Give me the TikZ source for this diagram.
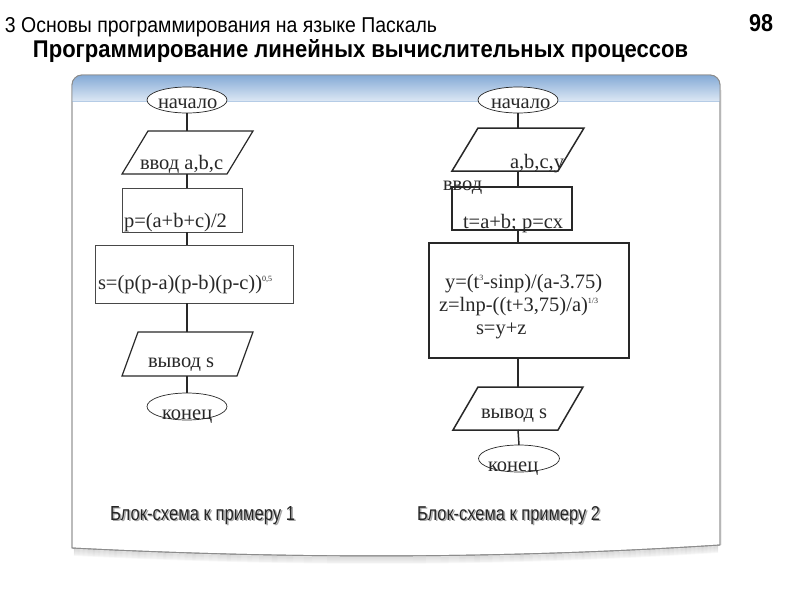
\documentclass[tikz,border=0pt]{standalone}
\usepackage{fontspec}
\setmainfont{Liberation Serif}
\newfontfamily\hsans{Liberation Sans}
\usetikzlibrary{shapes.geometric}
\definecolor{hdrtop}{RGB}{132,170,214}
\definecolor{hdrbot}{RGB}{220,231,244}
\definecolor{ink}{RGB}{40,40,40}
\definecolor{frame}{RGB}{140,140,140}
\newcommand{\fcfont}{\fontsize{20.5}{22}\selectfont}
\newcommand{\supx}[1]{\raisebox{8pt}{\fontsize{8}{8}\selectfont #1}}
\begin{document}
\begin{tikzpicture}[x=1pt,y=-1pt,
  every node/.style={inner sep=0pt, outer sep=0pt},
  fctext/.style={font=\fcfont, text=ink, anchor=base west},
  termshape/.style={ellipse, draw=ink, line width=0.7pt, minimum width=80pt, minimum height=26pt, fill=white},
  procthin/.style={rectangle, draw=ink!85, line width=0.9pt},
  procthick/.style={rectangle, draw=ink, line width=1.5pt},
  iohold/.style={rectangle, draw=none},
  ioline/.style={draw=ink, line width=1.2pt, line join=miter},
  conn/.style={draw=ink, line width=1.2pt},
  titletext/.style={anchor=base west, font=\hsans},
  lbltext/.style={anchor=base west, font=\hsans}]
\useasboundingbox (0,0) rectangle (800,600);
\fill[white] (0,0) rectangle (800,600);

% soft shadow under the panel
\foreach \d/\o in {7/0.03,6/0.04,5/0.05,4/0.06,3/0.07,2/0.08,1/0.09}{
  \draw[black, opacity=\o, line width=1.6pt]
    (74,548+\d) .. controls (288,559+\d) and (504,559+\d) .. (718,545+\d);
}
\fill[black, opacity=0.06] (73,90) rectangle (75,548);
\fill[black, opacity=0.06] (719,90) rectangle (722,545);

% panel
\path[fill=white, draw=frame, line width=0.9pt]
  (72,548) [rounded corners=10pt]-- (72,75) -- (720,75) [sharp corners]-- (720,545)
  .. controls (504,559) and (288,559) .. cycle;
\begin{scope}
  \clip (72,548) [rounded corners=10pt]-- (72,75) -- (720,75) [sharp corners]-- (720,545)
  .. controls (504,559) and (288,559) .. cycle;
  \shade[top color=hdrtop, bottom color=hdrbot] (72,75) rectangle (720,101);
  \draw[color=hdrtop!60, line width=0.6pt] (72,101) -- (720,101);
\end{scope}
\draw[draw=frame, line width=0.9pt]
  (72,548) [rounded corners=10pt]-- (72,75) -- (720,75) [sharp corners]-- (720,545)
  .. controls (504,559) and (288,559) .. cycle;

% titles
\node[titletext] (t1) at (5,32) {\resizebox{432pt}{15pt}{3 Основы программирования на языке Паскаль}};
\node[titletext] (t2) at (33,57) {\resizebox{655pt}{18pt}{\bfseries Программирование линейных вычислительных процессов}};
\node[titletext] (pg) at (749,31) {\resizebox{24pt}{17pt}{\bfseries 98}};

% ---------- left flowchart ----------
\node[termshape] (ls) at (187,100) {};
\node[fctext] (lst) at (158,108) {начало};
\node[iohold, minimum width=131pt, minimum height=43pt] (lin) at (187.5,152.5) {};
\path[ioline] (lin.south west) -- ([xshift=-26pt]lin.south east) -- (lin.north east) -- ([xshift=26pt]lin.north west) -- cycle;
\node[fctext] (lint) at (140,169) {ввод a,b,c};
\node[procthin, minimum width=120pt, minimum height=44pt] (lp) at (182,210) {};
\node[fctext] (lpt) at (124,227) {p=(a+b+c)/2};
\node[procthin, minimum width=198pt, minimum height=58pt] (ls2) at (194,274) {};
\node[fctext] (ls2t) at (98,289) {s=(p(p-a)(p-b)(p-c))\supx{0,5}};
\node[iohold, minimum width=131pt, minimum height=44pt] (lout) at (187.5,354) {};
\path[ioline] (lout.south west) -- ([xshift=-16pt]lout.south east) -- (lout.north east) -- ([xshift=16pt]lout.north west) -- cycle;
\node[fctext] (loutt) at (148,367) {вывод s};
\node[termshape, minimum height=27pt] (le) at (187,406.5) {};
\node[fctext] (let) at (162,419) {конец};

\draw[conn] (ls.south) -- (ls.south |- lin.north);
\draw[conn] (ls.south |- lin.south) -- (ls.south |- lp.north);
\draw[conn] (ls.south |- lp.south) -- (ls.south |- ls2.north);
\draw[conn] (ls.south |- ls2.south) -- (ls.south |- lout.north);
\draw[conn] (ls.south |- lout.south) -- (le.north);

% ---------- right flowchart ----------
\node[termshape] (rs) at (518,100) {};
\node[fctext] (rst) at (491,108) {начало};
\node[iohold, minimum width=132pt, minimum height=43pt] (rin) at (518,149.5) {};
\path[ioline, line width=1.5pt] (rin.south west) -- ([xshift=-26pt]rin.south east) -- (rin.north east) -- ([xshift=26pt]rin.north west) -- cycle;
\node[fctext] (rint) at (510,168) {a,b,c,y};
\node[procthick, minimum width=120pt, minimum height=43pt] (rp) at (512,208.5) {};
\node[fctext] (rvv) at (443,190) {ввод};
\node[fctext] (rpt) at (463,228) {t=a+b; p=cx};
\node[procthick, minimum width=200pt, minimum height=115pt] (rc) at (529,300.5) {};
\node[fctext] (rc1) at (445,288) {y=(t\supx{3}-sinp)/(a-3.75)};
\node[fctext] (rc2) at (439,311) {z=lnp-((t+3,75)/a)\supx{1/3}};
\node[fctext] (rc3) at (476,334) {s=y+z};
\node[iohold, minimum width=130pt, minimum height=43pt] (rout) at (518,408.5) {};
\path[ioline, line width=1.5pt] (rout.south west) -- ([xshift=-25pt]rout.south east) -- (rout.north east) -- ([xshift=25pt]rout.north west) -- cycle;
\node[fctext] (routt) at (481,418) {вывод s};
\node[termshape, minimum width=81pt, minimum height=27pt] (re) at (519,458.5) {};
\node[fctext] (ret) at (488,471) {конец};

\draw[conn, line width=1.5pt] (rs.south) -- (rs.south |- rin.north);
\draw[conn, line width=1.5pt] (rs.south |- rin.south) -- (rs.south |- rp.north);
\draw[conn, line width=1.5pt] (rs.south |- rp.south) -- (rs.south |- rc.north);
\draw[conn, line width=1.5pt] (rs.south |- rc.south) -- (rs.south |- rout.north);
\draw[conn, line width=1.5pt] (rs.south |- rout.south) -- (re.north);

% ---------- captions ----------
\node[lbltext, text=black!35] (c1s) at (111.5,521.5) {\resizebox{185pt}{14pt}{Блок-схема к примеру 1}};
\node[lbltext, text=black!85] (c1) at (110,520) {\resizebox{185pt}{14pt}{Блок-схема к примеру 1}};
\node[lbltext, text=black!35] (c2s) at (418.5,521.5) {\resizebox{183pt}{14pt}{Блок-схема к примеру 2}};
\node[lbltext, text=black!85] (c2) at (417,520) {\resizebox{183pt}{14pt}{Блок-схема к примеру 2}};
\end{tikzpicture}
\end{document}
